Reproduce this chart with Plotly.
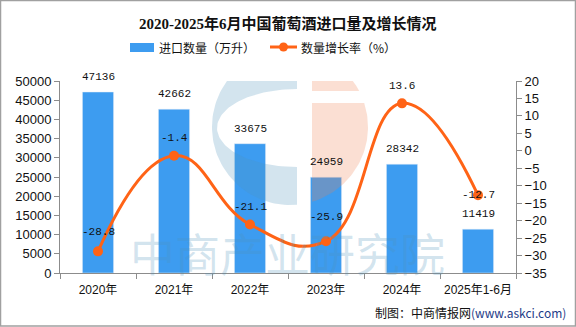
import math
import plotly.graph_objects as go

# ---------------- data ----------------
categories = ["2020年", "2021年", "2022年", "2023年", "2024年", "2025年1-6月"]
import_volume = [47136, 42662, 33675, 24959, 28342, 11419]   # 万升
growth_rate = [-28.8, -1.4, -21.1, -25.9, 13.6, -12.7]       # %
rate_label_shift = [19, 18, 17, 24, 17, 0]                   # label offsets (px)

title = "2020-2025年6月中国葡萄酒进口量及增长情况"
legend_bar = "进口数量（万升）"
legend_line = "数量增长率（%）"
source_text = "制图：中商情报网"
source_url = "(www.askci.com)"

BAR_COLOR = "#3D9CF0"
LINE_COLOR = "#FF6316"
AXIS_COLOR = "#8C8C8C"

W, H = 576, 327
L, R, T, B = 60, 60, 81, 54
PW, PH = W - L - R, H - T - B


def px_x(px):
    return (px - L) / PW


def px_y(py):
    return (H - B - py) / PH


# watermark helpers: pixel -> (x numeric, y2) data coords
Y2_MIN, Y2_MAX = -35, 20


def wx(px):
    return (px - L) / (PW / 6) - 0.5


def wy(py):
    return Y2_MAX - (py - T) * (Y2_MAX - Y2_MIN) / PH


fig = go.Figure()

x_idx = list(range(len(categories)))

fig.add_trace(go.Bar(
    x=x_idx, y=import_volume, marker_color=BAR_COLOR, width=0.41,
    showlegend=False, hoverinfo="skip", yaxis="y"))

# ---- watermark logo (decoration) ----
cx, cy, Rr = 290, 127, 78
pts = []
a0 = math.acos((297 - cx) / Rr)
n = 80
for i in range(n + 1):
    a = a0 + (2 * math.pi - 2 * a0) * i / n
    pts.append((cx + Rr * math.cos(a), cy - Rr * math.sin(a)))
hx, hy, hrx, hry = 297, 128, 80, 39
for i in range(n + 1):
    a = -math.pi / 2 - math.pi * i / n
    pts.append((hx + hrx * math.cos(a), hy - hry * math.sin(a)))
pts.append(pts[0])
fig.add_trace(go.Scatter(
    x=[wx(p[0]) for p in pts], y=[wy(p[1]) for p in pts], mode="lines",
    fill="toself", fillcolor="rgba(79,147,187,0.25)", line=dict(width=0),
    yaxis="y2", showlegend=False, hoverinfo="skip"))


def orange_piece(y_top, y_bot):
    def xr(py):
        d = Rr ** 2 - (py - cy) ** 2
        return cx + math.sqrt(max(d, 0))
    ys = [y_top + (y_bot - y_top) * i / 60 for i in range(61)]
    pp = [(max(xr(y), 312), y) for y in ys]
    pp += [(312, y_bot), (312, y_top), pp[0]]
    return pp


y_top_o = cy - math.sqrt(Rr ** 2 - (312 - cx) ** 2)
y_bot_o = cy + math.sqrt(Rr ** 2 - (312 - cx) ** 2)
for a, b in [(y_top_o, 91), (103, y_bot_o)]:
    pp = orange_piece(a, b)
    fig.add_trace(go.Scatter(
        x=[wx(p[0]) for p in pp], y=[wy(p[1]) for p in pp], mode="lines",
        fill="toself", fillcolor="rgba(240,128,80,0.25)", line=dict(width=0),
        yaxis="y2", showlegend=False, hoverinfo="skip"))

# ---- growth line ----
fig.add_trace(go.Scatter(
    x=x_idx, y=growth_rate, mode="lines+markers", yaxis="y2",
    line=dict(color=LINE_COLOR, width=3, shape="spline", smoothing=1.3),
    marker=dict(color=LINE_COLOR, size=10),
    showlegend=False, hoverinfo="skip"))

annotations = []
label_font = dict(family="Liberation Mono, DejaVu Sans Mono, monospace", size=11, color="#111")
for i, v in enumerate(import_volume):
    annotations.append(dict(x=i, y=v, xref="x", yref="y", text=str(v), showarrow=False,
                            yanchor="middle", yshift=15, font=label_font))
for i, v in enumerate(growth_rate):
    annotations.append(dict(x=i, y=v, xref="x", yref="y2", text=f"{v:g}",
                            showarrow=False, yanchor="middle", yshift=rate_label_shift[i],
                            font=label_font))

# watermark text
annotations.append(dict(x=px_x(287), y=px_y(252), xref="paper", yref="paper", text="中商产业研究院",
                        showarrow=False, xanchor="center", yanchor="middle",
                        font=dict(family="Noto Sans CJK SC", size=45, color="rgba(79,147,187,0.25)")))

# title
annotations.append(dict(x=px_x(288), y=px_y(23), xref="paper", yref="paper",
                        text="<b>" + title + "</b>", showarrow=False, xanchor="center", yanchor="middle",
                        font=dict(family="Liberation Serif, Noto Sans CJK SC", size=15, color="#111")))
leg_font = dict(family="Noto Sans CJK SC", size=12, color="#111")
annotations.append(dict(x=px_x(157), y=px_y(47), xref="paper", yref="paper", text=legend_bar,
                        showarrow=False, xanchor="left", yanchor="middle", font=leg_font))
annotations.append(dict(x=px_x(299), y=px_y(47), xref="paper", yref="paper", text=legend_line,
                        showarrow=False, xanchor="left", yanchor="middle", font=leg_font))
annotations.append(dict(x=px_x(568), y=px_y(312), xref="paper", yref="paper",
                        text=source_text + "<span style='color:#1F3C88'>" + source_url + "</span>",
                        showarrow=False, xanchor="right", yanchor="middle",
                        font=dict(family="Noto Sans CJK SC", size=12, color="#111")))

shapes = [
    dict(type="rect", xref="paper", yref="paper", x0=px_x(0.5), x1=px_x(575.5), y0=px_y(0.5), y1=px_y(326),
         line=dict(color="#A0A0A0", width=1.5), fillcolor="rgba(0,0,0,0)", layer="below"),
    dict(type="rect", xref="paper", yref="paper", x0=px_x(130), x1=px_x(154), y0=px_y(52), y1=px_y(43),
         line=dict(width=0), fillcolor=BAR_COLOR),
    dict(type="line", xref="paper", yref="paper", x0=px_x(270), x1=px_x(297), y0=px_y(47), y1=px_y(47),
         line=dict(color=LINE_COLOR, width=3)),
    dict(type="circle", xref="paper", yref="paper", x0=px_x(279), x1=px_x(288), y0=px_y(51.5), y1=px_y(42.5),
         line=dict(width=0), fillcolor=LINE_COLOR),
]

axis_font = dict(family="Liberation Sans, Arial", size=13, color="#111")

fig.update_layout(
    width=W, height=H, margin=dict(l=L, r=R, t=T, b=B),
    paper_bgcolor="white", plot_bgcolor="rgba(0,0,0,0)",
    showlegend=False,
    xaxis=dict(range=[-0.5, 5.5], tickmode="array", tickvals=x_idx, ticktext=categories,
               ticks="", showline=True, linecolor=AXIS_COLOR, linewidth=1, showgrid=False, zeroline=False,
               tickfont=dict(family="Liberation Sans, Noto Sans CJK SC", size=12, color="#111"),
               ticklabelstandoff=6,
               minor=dict(tickmode="array", tickvals=[i - 0.5 for i in range(7)], ticks="outside",
                          ticklen=5, tickcolor=AXIS_COLOR, showgrid=False),
               fixedrange=True),
    yaxis=dict(range=[0, 50000], dtick=5000, tick0=0, tickformat="d", showline=True, linecolor=AXIS_COLOR,
               ticks="outside", ticklen=5, tickcolor=AXIS_COLOR, showgrid=False, zeroline=False,
               tickfont=axis_font),
    yaxis2=dict(range=[Y2_MIN, Y2_MAX], dtick=5, tick0=0, overlaying="y", side="right", showline=True,
                linecolor=AXIS_COLOR, ticks="outside", ticklen=5, tickcolor=AXIS_COLOR, showgrid=False,
                zeroline=False, tickfont=axis_font),
    annotations=annotations, shapes=shapes,
)

fig.write_html("out.html")
